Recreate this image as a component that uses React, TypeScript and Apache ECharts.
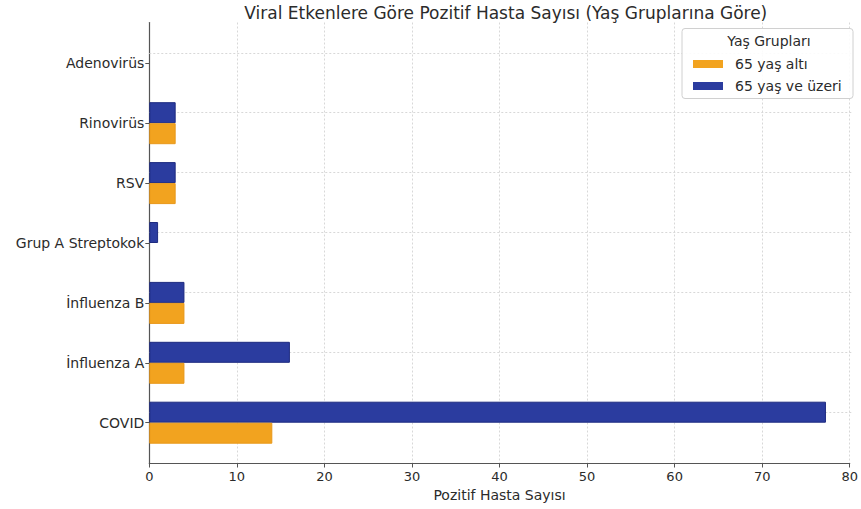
import React, { useEffect, useRef } from "react";
import * as echarts from "echarts";

const categories = ["Adenovirüs", "Rinovirüs", "RSV", "Grup A Streptokok", "İnfluenza B", "İnfluenza A", "COVID"];
const under65 = [0, 3, 3, 0, 4, 4, 14];
const over65 = [0, 3, 3, 1, 4, 16, 77];
const seriesNames = ["65 yaş altı", "65 yaş ve üzeri"];
const xTicks = { min: 0, max: 80, interval: 10 };
const titleText = "Viral Etkenlere Göre Pozitif Hasta Sayısı (Yaş Gruplarına Göre)";
const xName = "Pozitif Hasta Sayısı";
const legendTitle = "Yaş Grupları";

const ORANGE = "#f2a31f";
const BLUE = "#2b3c9f";
const FONT = "DejaVu Sans";
const TXT = "#2b2b2b";

function barData(vals: number[], border: string) {
  return vals.map((v) => ({
    value: v,
    itemStyle: v > 0 ? { borderColor: border, borderWidth: 1 } : { borderWidth: 0 },
  }));
}

export default function App() {
  const ref = useRef<HTMLDivElement>(null);
  useEffect(() => {
    if (!ref.current) return;
    const chart = echarts.init(ref.current, null, { renderer: "svg" });
    const L = 149.3, R = 8.7;
    const option: any = {
      animation: false,
      backgroundColor: "#ffffff",
      textStyle: { fontFamily: FONT },
      title: {
        text: titleText,
        left: 500.8,
        textAlign: "center",
        top: -1,
        textStyle: { fontFamily: FONT, fontSize: 17, fontWeight: "normal", color: TXT },
      },
      grid: [
        { left: L, right: R, top: 22.5, bottom: 45.5 },
        { left: L, right: R, top: 33.35, bottom: 56.35 },
      ],
      xAxis: [
        {
          gridIndex: 0,
          type: "value",
          min: xTicks.min,
          max: xTicks.max,
          interval: xTicks.interval,
          name: xName,
          nameLocation: "middle",
          nameGap: 24,
          nameTextStyle: { fontFamily: FONT, fontSize: 14, color: TXT },
          axisLine: { show: true, lineStyle: { color: "#555", width: 1.2 } },
          axisTick: { show: true, length: 4, lineStyle: { color: "#555" } },
          axisLabel: { fontFamily: FONT, fontSize: 13, color: TXT, margin: 6 },
          splitLine: { show: true, lineStyle: { color: "#d8d8d8", type: [2, 2], width: 1 } },
        },
        {
          gridIndex: 1,
          type: "value",
          min: xTicks.min,
          max: xTicks.max,
          interval: xTicks.interval,
          show: false,
        },
      ],
      yAxis: [
        {
          gridIndex: 0,
          type: "value",
          min: 0,
          max: 1,
          axisLine: { show: true, lineStyle: { color: "#555", width: 1.2 } },
          axisTick: { show: false },
          axisLabel: { show: false },
          splitLine: { show: false },
        },
        {
          gridIndex: 1,
          type: "category",
          inverse: true,
          data: categories,
          axisLine: { show: false },
          axisTick: { show: true, alignWithLabel: true, length: 4, lineStyle: { color: "#555" } },
          axisLabel: { fontFamily: FONT, fontSize: 14, color: TXT, margin: 5 },
          splitLine: { show: false },
        },
      ],
      legend: {
        orient: "vertical",
        left: 688,
        top: 52,
        itemWidth: 30,
        itemHeight: 8,
        itemGap: 8,
        icon: "rect",
        data: [seriesNames[0], seriesNames[1]],
        textStyle: { fontFamily: FONT, fontSize: 14, color: TXT, padding: [0, 0, 0, 7] },
        z: 20,
      },
      graphic: [
        {
          type: "rect",
          shape: { x: 682, y: 28.5, width: 171, height: 70, r: 3 },
          style: { fill: "rgba(255,255,255,0.9)", stroke: "#d0d0d0", lineWidth: 1 },
          z: 10,
        },
        {
          type: "text",
          x: 769,
          y: 41,
          style: {
            text: legendTitle,
            fontFamily: FONT,
            fontSize: 14,
            fill: TXT,
            textAlign: "center",
            textVerticalAlign: "middle",
          },
          z: 11,
        },
      ],
      series: [
        {
          name: seriesNames[1],
          type: "bar",
          xAxisIndex: 1,
          yAxisIndex: 1,
          data: barData(over65, "#1d2a80"),
          barWidth: 21,
          barGap: "0%",
          itemStyle: { color: BLUE },
          z: 3,
          markLine: {
            silent: true,
            symbol: "none",
            label: { show: false },
            lineStyle: { color: "#d8d8d8", type: [2, 2], width: 1 },
            data: categories.map((c) => ({ yAxis: c })),
            z: 1,
          },
        },
        {
          name: seriesNames[0],
          type: "bar",
          xAxisIndex: 1,
          yAxisIndex: 1,
          data: barData(under65, "#e8981a"),
          barWidth: 21,
          barGap: "0%",
          itemStyle: { color: ORANGE },
          z: 3,
        },
      ],
    };
    chart.setOption(option);
    return () => chart.dispose();
  }, []);
  return (
    <div
      ref={ref}
      style={{ position: "absolute", left: 0, top: 0, width: 861, height: 509 }}
    />
  );
}
